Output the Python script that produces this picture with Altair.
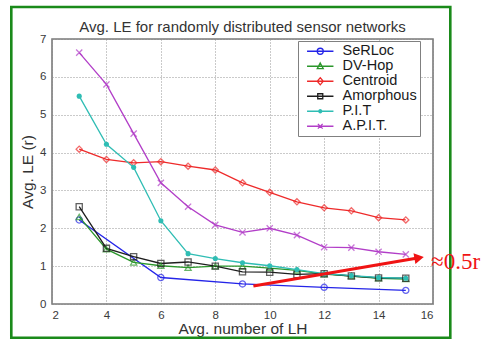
import altair as alt
import pandas as pd

# ---------------- data ----------------
x_vals = [3, 4, 5, 6, 7, 8, 9, 10, 11, 12, 13, 14, 15]
serloc_x = [3, 6, 9, 12, 15]
serloc_y = [2.22, 0.70, 0.53, 0.44, 0.36]
dvhop_y = [2.30, 1.45, 1.10, 1.01, 0.96, 1.00, 1.00, 0.95, 0.89, 0.79, 0.74, 0.68, 0.66]
centroid_y = [4.09, 3.82, 3.73, 3.76, 3.64, 3.54, 3.20, 2.95, 2.70, 2.54, 2.46, 2.28, 2.22]
amorph_y = [2.57, 1.47, 1.25, 1.07, 1.11, 1.00, 0.85, 0.84, 0.78, 0.80, 0.74, 0.69, 0.68]
pit_y = [5.49, 4.22, 3.61, 2.20, 1.33, 1.20, 1.09, 1.01, 0.91, 0.80, 0.75, 0.70, 0.68]
apit_y = [6.64, 5.80, 4.50, 3.20, 2.57, 2.09, 1.89, 2.00, 1.82, 1.50, 1.49, 1.38, 1.31]

series_names = ["SeRLoc", "DV-Hop", "Centroid", "Amorphous", "P.I.T", "A.P.I.T."]
series_colors = ["#2424e8", "#2a962a", "#ee2a2a", "#1e1e1e", "#2fbdb4", "#b23ec8"]

x_ticks = [2, 4, 6, 8, 10, 12, 14, 16]
y_ticks = [0, 1, 2, 3, 4, 5, 6, 7]

title_text = "Avg. LE for randomly distributed sensor networks"
x_title = "Avg. number of LH"
y_title = "Avg. LE (r)"

# annotation (data coordinates)
arrow_x, arrow_y = 9.40, 0.475
arrow_x2, arrow_y2 = 15.49, 1.223
note_text = "≈0.5r"
note_x, note_y = 15.93, 1.11

# ---------------- styling ----------------
FONT = "Liberation Sans"
W, H = 381, 265
PAD = {"left": 52, "top": 39, "right": 488 - 52 - 381, "bottom": 339 - 39 - 265}
FRAME = dict(x0=-40.7, x1=398.3, y0=-32, y1=298.8)

marker_shapes = ["circle", "triangle-up", "diamond", "square", "circle",
                 "M-1,-1L1,1M-1,1L1,-1"]
legend_shapes = [
    "M-2.2,0H2.2M0.5,0A0.5,0.5,0,1,1,-0.5,0A0.5,0.5,0,1,1,0.5,0",
    "M-2.2,0H2.2M0,-0.55L0.5,0.4L-0.5,0.4Z",
    "M-2.2,0H2.2M0,-0.6L0.5,0L0,0.6L-0.5,0Z",
    "M-2.2,0H2.2M-0.42,-0.42H0.42V0.42H-0.42Z",
    "M-2.2,0H2.2M0.25,0A0.25,0.25,0,1,1,-0.25,0A0.25,0.25,0,1,1,0.25,0",
    "M-2.2,0H2.2M-0.4,-0.4L0.4,0.4M-0.4,0.4L0.4,-0.4",
]

# ---------------- table ----------------
rows = []
for xv, yv in zip(serloc_x, serloc_y):
    rows.append({"series": "SeRLoc", "x": xv, "y": yv})
for name, ys in [("DV-Hop", dvhop_y), ("Centroid", centroid_y), ("Amorphous", amorph_y),
                 ("P.I.T", pit_y), ("A.P.I.T.", apit_y)]:
    for xv, yv in zip(x_vals, ys):
        rows.append({"series": name, "x": xv, "y": yv})
df = pd.DataFrame(rows)

arrow_df = pd.DataFrame([{"x": arrow_x, "y": arrow_y, "x2": arrow_x2, "y2": arrow_y2}])
head_df = pd.DataFrame([{"x": arrow_x2, "y": arrow_y2}])
note_df = pd.DataFrame([{"x": note_x, "y": note_y, "t": note_text}])

x_axis = alt.Axis(values=x_ticks, title=x_title, format="d", tickCount=8)
y_axis = alt.Axis(values=y_ticks, title=y_title, format="d", tickCount=8)
x_scale = alt.Scale(domain=[2, 16], nice=False, zero=False)
y_scale = alt.Scale(domain=[0, 7], nice=False)


def X(field="x:Q"):
    return alt.X(field, scale=x_scale, axis=x_axis)


def Y(field="y:Q"):
    return alt.Y(field, scale=y_scale, axis=y_axis)


def cscale():
    return alt.Scale(domain=series_names, range=series_colors)


base = alt.Chart(df)

frame = alt.Chart(pd.DataFrame([{"k": 0}])).mark_rect(
    fill="transparent", stroke="#1a8a1a", strokeWidth=2.6
).encode(x=alt.value(FRAME["x0"]), x2=alt.value(FRAME["x1"]),
         y=alt.value(FRAME["y0"]), y2=alt.value(FRAME["y1"]))

lines = base.mark_line(strokeWidth=1.3).encode(
    x=X(), y=Y(),
    color=alt.Color("series:N", scale=cscale(), legend=None),
    order="x:Q",
)

points = base.transform_filter(alt.datum.series != "P.I.T").mark_point(
    filled=False, size=38, strokeWidth=1.3
).encode(
    x=X(), y=Y(),
    color=alt.Color("series:N", scale=cscale(), legend=None),
    shape=alt.Shape("series:N", scale=alt.Scale(domain=series_names, range=marker_shapes), legend=None),
)

dots = base.transform_filter(alt.datum.series == "P.I.T").mark_circle(size=26, opacity=1).encode(
    x=X(), y=Y(),
    color=alt.Color("series:N", scale=cscale(), legend=None),
)

legend = alt.Legend(
    title=None, orient="none", legendX=246, legendY=2, direction="vertical",
    padding=3, fillColor="white", strokeColor="#808080",
    labelFont=FONT, labelFontSize=14.5, labelColor="#1a1a1a",
    symbolSize=144, symbolStrokeWidth=1.3, symbolOffset=12, labelOffset=15,
    rowPadding=0, symbolOpacity=1, labelExpr="datum.label + '   '",
)

legend_layer = base.mark_point(filled=False, opacity=0).encode(
    x=X(), y=Y(),
    color=alt.Color("series:N", scale=cscale(), legend=legend),
    shape=alt.Shape("series:N", scale=alt.Scale(domain=series_names, range=legend_shapes), legend=legend),
)

arrow = alt.Chart(arrow_df).mark_rule(color="#f01414", strokeWidth=3).encode(
    x=X(), y=Y(), x2="x2:Q", y2="y2:Q")
head = alt.Chart(head_df).mark_point(shape="triangle-up", filled=True, size=120, angle=80,
                                     color="#f01414", opacity=1).encode(x=X(), y=Y())
note = alt.Chart(note_df).mark_text(font="Liberation Serif", fontSize=23, color="#f01414",
                                    align="left", baseline="middle").encode(
    x=X(), y=Y(), text="t:N")

chart = alt.layer(frame, lines, points, dots, legend_layer, arrow, head, note).resolve_scale(
    color="independent", shape="independent"
).properties(
    width=W, height=H,
    autosize=alt.AutoSizeParams(type="none"),
    padding=PAD,
    background="white",
    title=alt.TitleParams(title_text, font=FONT, fontSize=15, fontWeight="normal",
                          color="#333333", anchor="middle", frame="group",
                          baseline="alphabetic", offset=-41),
).configure_view(
    stroke="#7a7a7a", strokeWidth=1.6
).configure_axis(
    labelFont=FONT, labelFontSize=11.5, labelColor="#3a3a3a",
    titleFont=FONT, titleFontSize=15.5, titleFontWeight="normal", titleColor="#333333",
    domain=False, ticks=False, grid=True, gridColor="#8a8a8a", gridDash=[1, 2],
    gridWidth=1, gridOpacity=0.9, labelOverlap=False,
).configure_axisX(labelPadding=5, titlePadding=1
).configure_axisY(labelPadding=6, titlePadding=4)

chart.save("out.html", embed_options={"renderer": "svg", "actions": False})
